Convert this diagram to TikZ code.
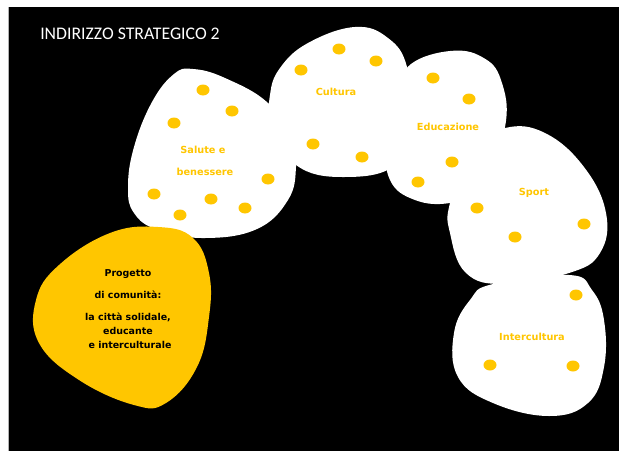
\documentclass[tikz,border=0pt]{standalone}
\usepackage{fontspec}
\setmainfont{DejaVu Sans}
\newfontfamily\titlefont{Carlito}
\definecolor{gold}{RGB}{255,198,0}
\begin{document}
\begin{tikzpicture}[x=0.75pt,y=-0.75pt,
  blob/.style={fill=white,draw=none},
  dot/.style={fill=gold,draw=none},
  lab/.style={text=gold,font=\fontsize{7.3}{8}\selectfont\bfseries,inner sep=0pt},
  ptext/.style={text=black,font=\fontsize{7.1}{8}\selectfont\bfseries,inner sep=0pt,align=center}]
\useasboundingbox (0,0) rectangle (619,451);
\fill[white] (0,0) rectangle (619,451);
\fill[black] (8,7) rectangle (619,451);
\draw[gray!60,line width=0.6pt] (8,7) -- (8,451);
% title
\node[text=white,font=\titlefont\fontsize{13.3}{15}\selectfont,anchor=west,inner sep=0pt] (title) at (40,34) {INDIRIZZO STRATEGICO 2};
% blobs
\fill[blob] plot[smooth cycle,tension=0.7] coordinates {(193,69) (225,78) (268,103) (292,140) (296,167) (288,200) (257,229) (205,238) (158,230) (134,213) (128,187) (134,147) (152,102) (174,74)};
\fill[blob] plot[smooth cycle,tension=0.7] coordinates {(355,27) (388,38) (407,67) (410,120) (395,165) (343,177) (296,165) (272,125) (270,95) (280,68) (308,43)};
\fill[blob] plot[smooth cycle,tension=0.7] coordinates {(450,51) (482,57) (501,80) (505,127) (480,190) (450,203) (415,200) (390,180) (387,140) (400,90) (411,64)};
\fill[blob] plot[smooth cycle,tension=0.7] coordinates {(505,128) (545,133) (584,167) (606,213) (600,253) (569,273) (505,284) (466,273) (450,233) (450,203) (470,150)};
\fill[blob] plot[smooth cycle,tension=0.7] coordinates {(493,284) (569,275) (592,290) (604,320) (604,367) (588,403) (549,416) (493,403) (458,377) (454,333) (470,300)};
% progetto blob
\fill[gold] plot[smooth cycle,tension=0.7] coordinates {(158,227) (193,238) (209,273) (209,317) (197,367) (166,403) (134,405) (79,380) (39,343) (36,300) (59,265) (110,233)};
% dots
\foreach \p in {(203,90),(232,111),(174,123),(268,179),(154,194),(211,199),(245,208),(180,215),
  (339,49),(376,61),(301,70),(313,144),(362,157),
  (433,78),(469,99),(452,162),(418,182),
  (477,208),(584,224),(515,237),
  (576,295),(490,365),(573,366)}
  \fill[dot] \p ellipse[x radius=6.5,y radius=5.5];
% labels
\node[lab] (salute) at (203,150) {Salute e};
\node[lab] (benessere) at (205,172) {benessere};
\node[lab] (cultura) at (336,92) {Cultura};
\node[lab] (educazione) at (448,127) {Educazione};
\node[lab] (sport) at (534,193) {Sport};
\node[lab] (intercultura) at (532,337) {Intercultura};
\node[ptext] (p1) at (128,274) {Progetto};
\node[ptext] (p2) at (128,295) {di comunità:};
\node[ptext] (p3) at (128,317) {la città solidale,};
\node[ptext] (p4) at (128,331) {educante};
\node[ptext] (p5) at (130,345) {e interculturale};
\end{tikzpicture}
\end{document}
